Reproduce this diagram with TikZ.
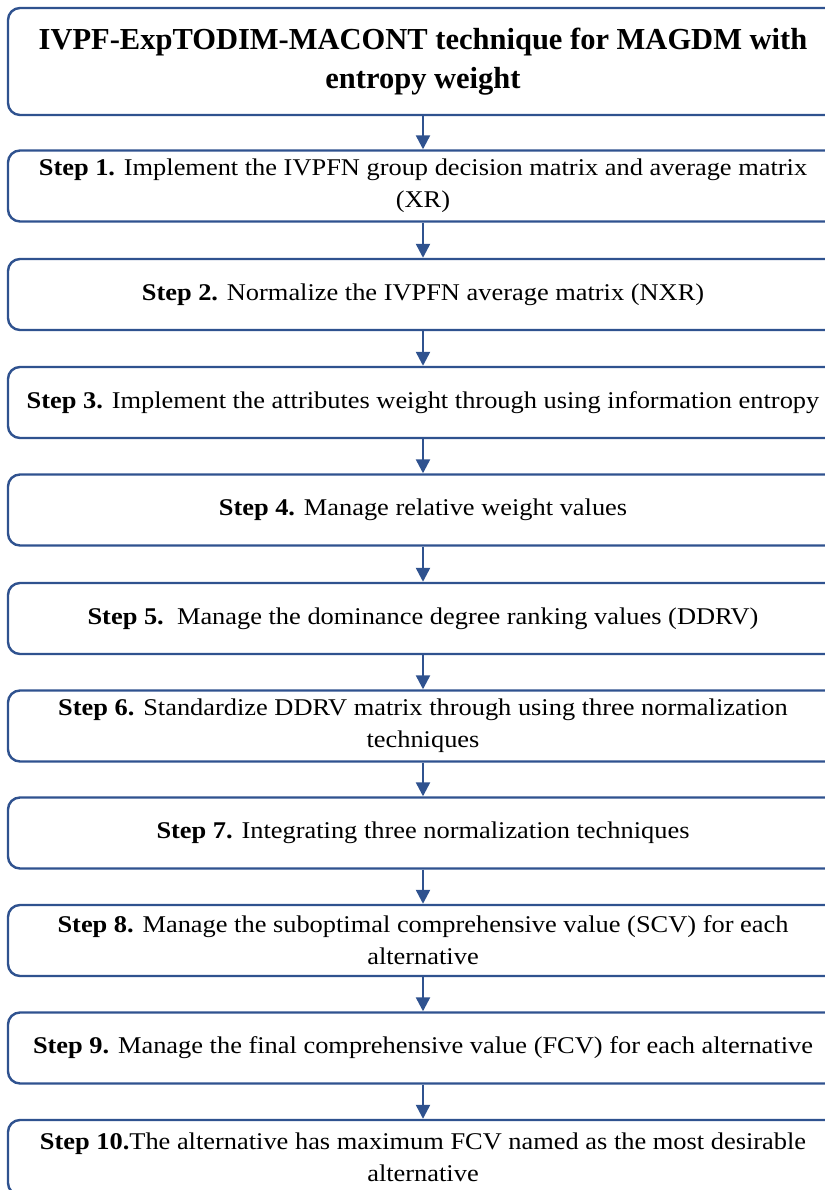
\documentclass[tikz,border=0pt]{standalone}
\usepackage{fontspec}
\setmainfont{Liberation Serif}
\newfontfamily\stepfont[FakeStretch=1.1]{Liberation Serif}
\usepackage{tikz}
\usetikzlibrary{arrows.meta}
\definecolor{StepBlue}{RGB}{47,82,143}

\begin{document}
\begin{tikzpicture}[x=1pt,y=1pt,
  stepbox/.style={draw=StepBlue,line width=2.4pt,rounded corners=12pt,rectangle,
     minimum width=830pt,minimum height=#1,align=center,inner sep=0pt},
  stepbox/.default=71pt,
  arr/.style={StepBlue,line width=2.4pt,-{Triangle[length=14pt,width=14pt]}}]
\useasboundingbox (0,0) rectangle (824,1190);
\node[stepbox=107pt,font=\fontsize{30.5}{39}\selectfont\bfseries](s0) at(423,1128.5)
   {IVPF-ExpTODIM-MACONT technique for MAGDM with\\entropy weight};
\begin{scope}[font=\stepfont\fontsize{24}{32}\selectfont]
\node[stepbox](s1) at(423,1004) {\textbf{Step 1.} Implement the IVPFN group decision matrix and average matrix\\(XR)};
\node[stepbox](s2) at(423,895.5) {\textbf{Step 2.} Normalize the IVPFN average matrix (NXR)};
\node[stepbox](s3) at(423,787.5) {\textbf{Step 3.} Implement the attributes weight through using information entropy};
\node[stepbox](s4) at(423,680) {\textbf{Step 4.} Manage relative weight values};
\node[stepbox](s5) at(423,571.5) {\textbf{Step 5.}\ \ Manage the dominance degree ranking values (DDRV)};
\node[stepbox](s6) at(423,464) {\textbf{Step 6.} Standardize DDRV matrix through using three normalization\\techniques};
\node[stepbox](s7) at(423,357) {\textbf{Step 7.} Integrating three normalization techniques};
\node[stepbox](s8) at(423,249.5) {\textbf{Step 8.} Manage the suboptimal comprehensive value (SCV) for each\\alternative};
\node[stepbox](s9) at(423,142) {\textbf{Step 9.} Manage the final comprehensive value (FCV) for each alternative};
\node[stepbox=75pt](s10) at(423,32.5) {\textbf{Step 10.}The alternative has maximum FCV named as the most desirable\\alternative};
\end{scope}
\foreach \a/\b in {s0/s1,s1/s2,s2/s3,s3/s4,s4/s5,s5/s6,s6/s7,s7/s8,s8/s9,s9/s10} {
   \draw[arr] (\a) -- (\b);
}
\end{tikzpicture}
\end{document}
